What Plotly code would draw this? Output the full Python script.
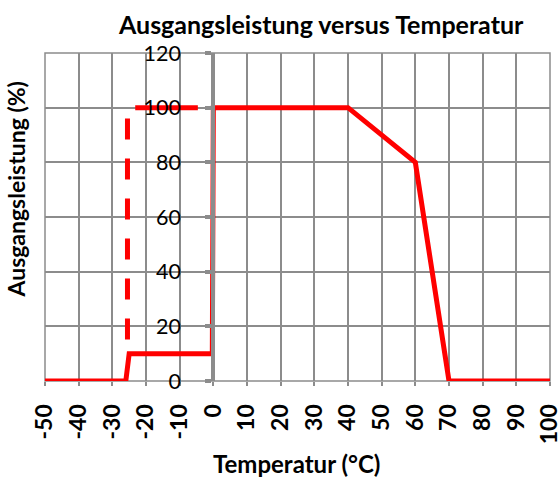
import plotly.graph_objects as go

# Data
temp_solid = [-50, -26, -25, -0.3, 0, 40, 60, 70, 100]
power_solid = [0, 0, 10, 10, 100, 100, 80, 0, 0]
temp_dashed = [-25.5, -25.5]
power_dashed = [96, 10]
temp_flat = [-23.2, -4.6]
power_flat = [100, 100]

x_ticks = [-50, -40, -30, -20, -10, 0, 10, 20, 30, 40, 50, 60, 70, 80, 90, 100]
x_ticktext = ["-50", "-40", "-30", "-20", "-10", "0", "10", "20", "30", "40", "50", "60", "70", "80", "90", "100"]
y_ticks = [0, 20, 40, 60, 80, 100, 120]

RED = "#ff0000"
GRID = "#8c8c8c"
FONT = "Lato"

L, R, T, B = 44.5, 10.3, 53, 96
W, H = 560, 477
plot_w = W - L - R
plot_h = H - T - B


def px(xpix):
    return (xpix - L) / plot_w


def py(ypix):
    return (H - B - ypix) / plot_h


fig = go.Figure()
fig.add_trace(go.Scatter(x=temp_solid, y=power_solid, mode="lines",
                         line=dict(color=RED, width=5), showlegend=False))
fig.add_trace(go.Scatter(x=temp_dashed, y=power_dashed, mode="lines",
                         line=dict(color=RED, width=5, dash="21px,19px"), showlegend=False))
fig.add_trace(go.Scatter(x=temp_flat, y=power_flat, mode="lines",
                         line=dict(color=RED, width=5), showlegend=False))

fig.update_layout(
    width=W, height=H,
    margin=dict(l=L, r=R, t=T, b=B, autoexpand=False),
    plot_bgcolor="white", paper_bgcolor="white",
    font=dict(family=FONT, color="black"),
    xaxis=dict(range=[-50, 100], tickvals=x_ticks, ticktext=x_ticktext,
               tickangle=-90, tickfont=dict(size=23, family=FONT, weight="bold"),
               showgrid=True, gridcolor=GRID, gridwidth=1.5,
               zeroline=False, showline=False,
               ticks="outside", ticklen=4, tickwidth=1.5, tickcolor=GRID,
               ticklabelstandoff=9, ticklabeloverflow="allow",
               automargin=False, fixedrange=True),
    yaxis=dict(range=[0, 120], tickvals=y_ticks, anchor="free", position=1/3,
               tickfont=dict(size=21.5, family=FONT),
               showgrid=True, gridcolor=GRID, gridwidth=1.5,
               zeroline=False, showline=True, linecolor=GRID, linewidth=4,
               ticks="outside", ticklen=6, tickwidth=4, tickcolor=GRID,
               ticklabelstandoff=20, ticklabeloverflow="allow",
               automargin=False, fixedrange=True),
    shapes=[dict(type="rect", xref="paper", yref="paper", x0=0, x1=1, y0=0, y1=1,
                 line=dict(color=GRID, width=1.5), layer="below")],
    annotations=[
        dict(text="<b>Ausgangsleistung versus Temperatur</b>", x=px(321), y=py(24),
             xref="paper", yref="paper", showarrow=False, yanchor="middle",
             font=dict(size=25, family=FONT)),
        dict(text="<b>Temperatur (°C)</b>", x=px(296), y=py(463), xref="paper", yref="paper",
             showarrow=False, yanchor="middle", font=dict(size=24, family=FONT)),
        dict(text="<b>Ausgangsleistung (%)</b>", x=px(15), y=py(190), xref="paper", yref="paper",
             showarrow=False, textangle=-90, xanchor="center", yanchor="middle",
             font=dict(size=23, family=FONT)),
    ],
)

fig.write_html("out.html", config={"displayModeBar": False})

# remove the browser's default page margin so the figure sits at the window's corner
with open("out.html", "r", encoding="utf-8") as f:
    html = f.read()
html = html.replace("<head>", "<head><style>html,body{margin:0;padding:0;overflow:hidden;}</style>", 1)
with open("out.html", "w", encoding="utf-8") as f:
    f.write(html)
